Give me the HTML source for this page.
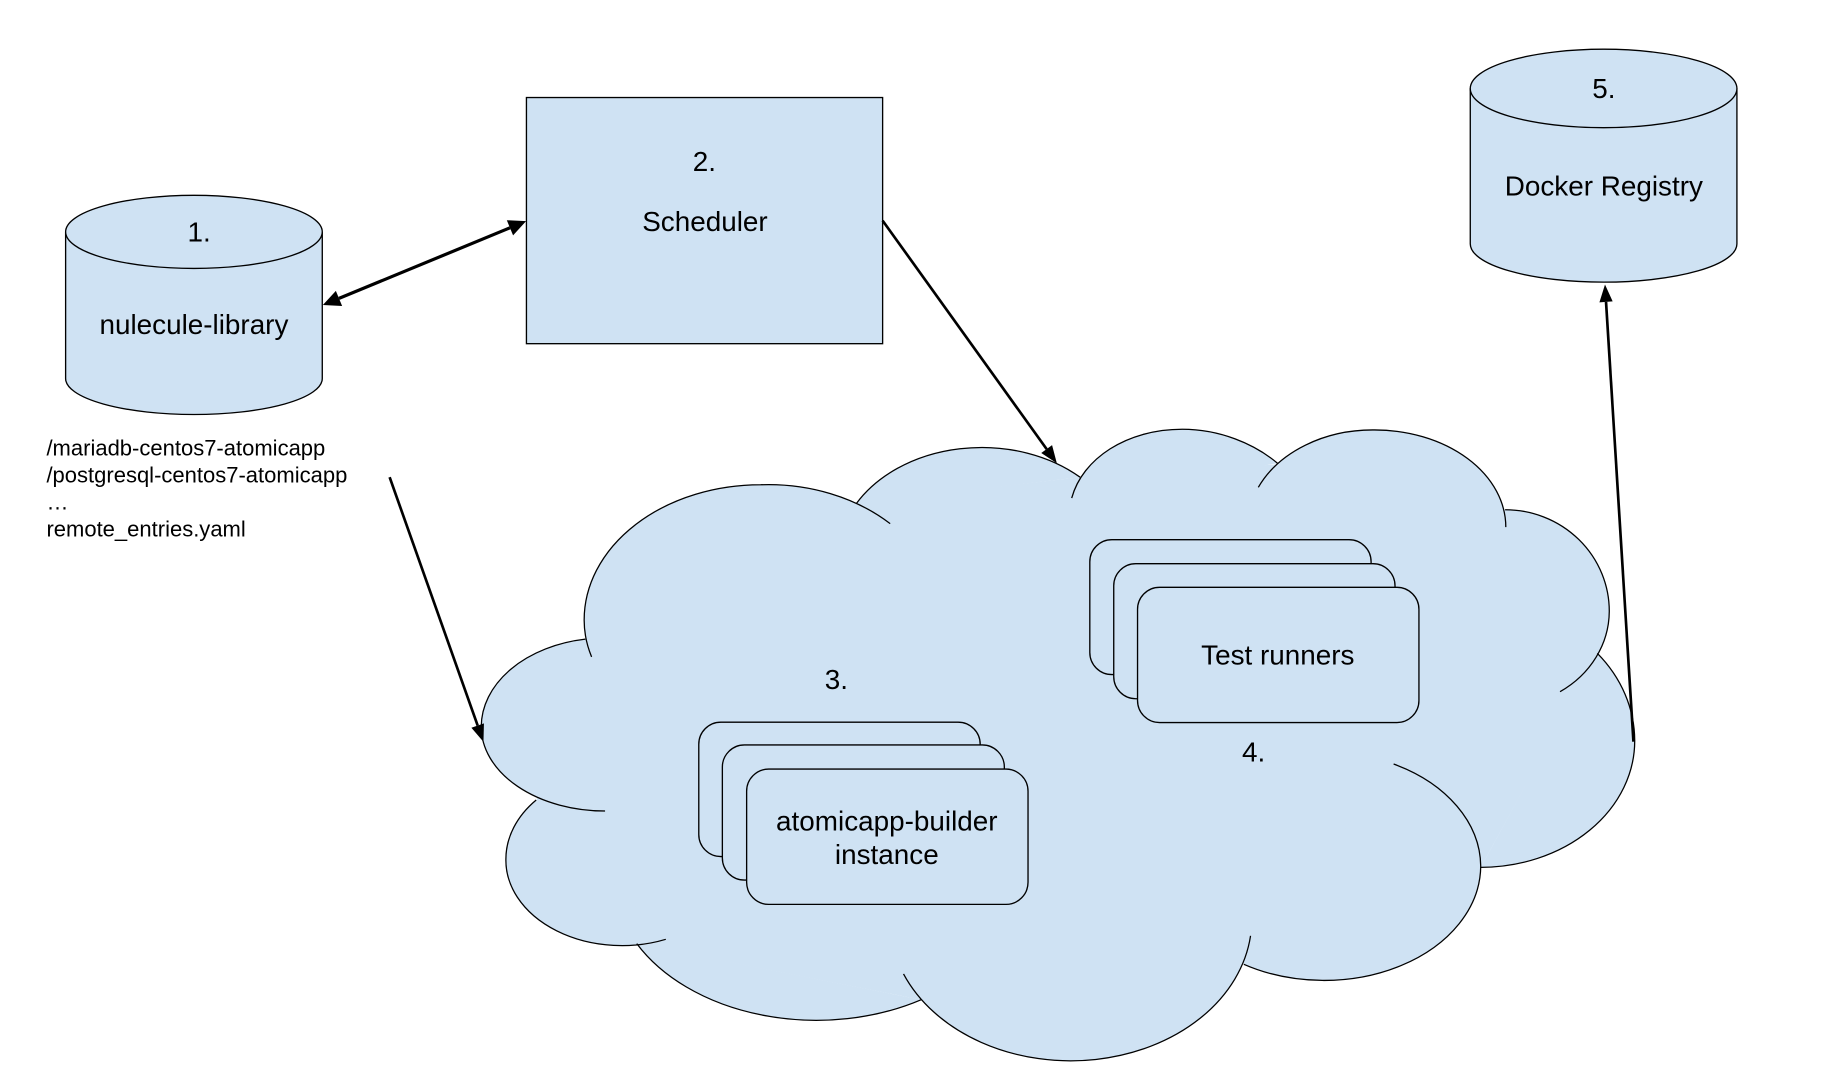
<!DOCTYPE html>
<html>
<head>
<meta charset="utf-8">
<style>
html,body{margin:0;padding:0;background:#fff;}
svg{display:block;}
text{font-family:"Liberation Sans",Arial,sans-serif;fill:#000;}
.t{font-size:24px;text-anchor:middle;}
.s{font-size:18.95px;}
.sh{fill:#cfe2f3;stroke:#000;stroke-width:1.15;}
.ln{stroke:#000;stroke-width:2.3;fill:none;}
</style>
</head>
<body>
<svg width="1821" height="1074" viewBox="0 0 1568 925" preserveAspectRatio="none" xmlns="http://www.w3.org/2000/svg">
<rect x="0" y="0" width="1568" height="925" fill="#fff"/>

<!-- Cloud fill -->
<g fill="#cfe2f3" stroke="none">
<polygon points="504,551 737,433 930,411 1099,400 1296,439 1376,563 1275,747 1071,830 793,861 548,813 462,689"/>
<path d="M509.4 565.7A152 110 0 0 1 503 534A152 116.5 0 0 1 655 417.5A152 122 0 0 1 766.5 451"/>
<path d="M737.5 433.5A124 95 0 0 1 930 411"/>
<path d="M922.8 429C932 395 970 369.7 1018 369.7C1050 369.7 1080 382 1100 399"/>
<path d="M1083.5 419.7A108 83.7 0 0 1 1183.6 370.3A113 83.7 0 0 1 1296.6 454"/>
<path d="M1296 439A89.7 87.5 0 0 1 1385.7 526.5A89.7 81.9 0 0 1 1343.3 595.7"/>
<path d="M1375.4 562.7A132.6 115.7 0 0 1 1407.6 638A132.6 109 0 0 1 1275 747"/>
<path d="M1200 658A135 99 0 0 1 1275 746A135 99 0 0 1 1071 830.5"/>
<path d="M1076.8 806A156 122 0 0 1 778 838.8"/>
<path d="M793.3 861A175 124 0 0 1 548.3 812.7"/>
<path d="M573.3 809A100 73.6 0 0 1 435.6 740A100 75.8 0 0 1 461.7 689"/>
<path d="M521 698.5A106.6 72.6 0 0 1 414.4 625.9A106.6 76.4 0 0 1 504 550.5"/>
</g>
<!-- Cloud outline -->
<g fill="none" stroke="#000" stroke-width="1.1">
<path d="M509.4 565.7A152 110 0 0 1 503 534A152 116.5 0 0 1 655 417.5A152 122 0 0 1 766.5 451"/>
<path d="M737.5 433.5A124 95 0 0 1 930 411"/>
<path d="M922.8 429C932 395 970 369.7 1018 369.7C1050 369.7 1080 382 1100 399"/>
<path d="M1083.5 419.7A108 83.7 0 0 1 1183.6 370.3A113 83.7 0 0 1 1296.6 454"/>
<path d="M1296 439A89.7 87.5 0 0 1 1385.7 526.5A89.7 81.9 0 0 1 1343.3 595.7"/>
<path d="M1375.4 562.7A132.6 115.7 0 0 1 1407.6 638A132.6 109 0 0 1 1275 747"/>
<path d="M1200 658A135 99 0 0 1 1275 746A135 99 0 0 1 1071 830.5"/>
<path d="M1076.8 806A156 122 0 0 1 778 838.8"/>
<path d="M793.3 861A175 124 0 0 1 548.3 812.7"/>
<path d="M573.3 809A100 73.6 0 0 1 435.6 740A100 75.8 0 0 1 461.7 689"/>
<path d="M521 698.5A106.6 72.6 0 0 1 414.4 625.9A106.6 76.4 0 0 1 504 550.5"/>
</g>

<!-- Cylinder 1 -->
<path class="sh" d="M56.5 200V326A110.5 31 0 0 0 277.5 326V200"/>
<ellipse class="sh" cx="167" cy="199.7" rx="110.5" ry="31.5"/>

<!-- Scheduler -->
<rect class="sh" x="453.3" y="84" width="306.7" height="212"/>

<!-- Cylinder 5 -->
<path class="sh" d="M1266 76V210A114.8 33 0 0 0 1495.6 210V76"/>
<ellipse class="sh" cx="1380.8" cy="76.2" rx="114.8" ry="33.8"/>

<!-- atomicapp-builder stack -->
<rect class="sh" x="601.7" y="622" width="242.3" height="115.7" rx="19" ry="19"/>
<rect class="sh" x="622" y="641.6" width="242.8" height="116.4" rx="19" ry="19"/>
<rect class="sh" x="642.9" y="662.4" width="242.3" height="116.5" rx="19" ry="19"/>

<!-- Test runner stack -->
<rect class="sh" x="938.4" y="464.8" width="242.2" height="116.2" rx="19" ry="19"/>
<rect class="sh" x="959" y="485.5" width="242.2" height="116.3" rx="19" ry="19"/>
<rect class="sh" x="979.5" y="505.8" width="242.3" height="116.5" rx="19" ry="19"/>

<!-- Connectors -->
<line x1="291.9" y1="257" x2="439.1" y2="196.2" stroke="#000" stroke-width="2.75"/>
<polygon points="278,262.7 294.6,263.5 289.2,250.5" fill="#000"/>
<polygon points="453,190.4 441.8,202.7 436.4,189.7" fill="#000"/>

<line class="ln" x1="760" y1="190" x2="901.25" y2="386.8"/>
<polygon points="910,399 905.9,383.4 896.6,390.2" fill="#000"/>

<line class="ln" x1="335.5" y1="411" x2="411.3" y2="624.9"/>
<polygon points="416.3,639 416.7,623 405.9,626.8" fill="#000"/>

<line class="ln" x1="1406.5" y1="638.8" x2="1382.9" y2="260"/>
<polygon points="1382,245 1388.6,259.6 1377.2,260.4" fill="#000"/>

<!-- Labels -->
<text class="t" x="171.5" y="207.8">1.</text>
<text class="t" x="167" y="287.8">nulecule-library</text>
<text class="t" x="606.5" y="147.5">2.</text>
<text class="t" x="607" y="198.8">Scheduler</text>
<text class="t" x="1381" y="84.6">5.</text>
<text class="t" x="1381" y="168.5">Docker Registry</text>
<text class="t" x="720.2" y="593.3">3.</text>
<text class="t" x="763.6" y="715.2">atomicapp-builder</text>
<text class="t" x="763.6" y="744.3">instance</text>
<text class="t" x="1100.3" y="572.3">Test runners</text>
<text class="t" x="1079.5" y="655.9">4.</text>
<text class="s" x="40" y="392.3">/mariadb-centos7-atomicapp</text>
<text class="s" x="40" y="415.6">/postgresql-centos7-atomicapp</text>
<text class="s" x="40" y="438.9">…</text>
<text class="s" x="40" y="462.2">remote_entries.yaml</text>
</svg>
</body>
</html>
